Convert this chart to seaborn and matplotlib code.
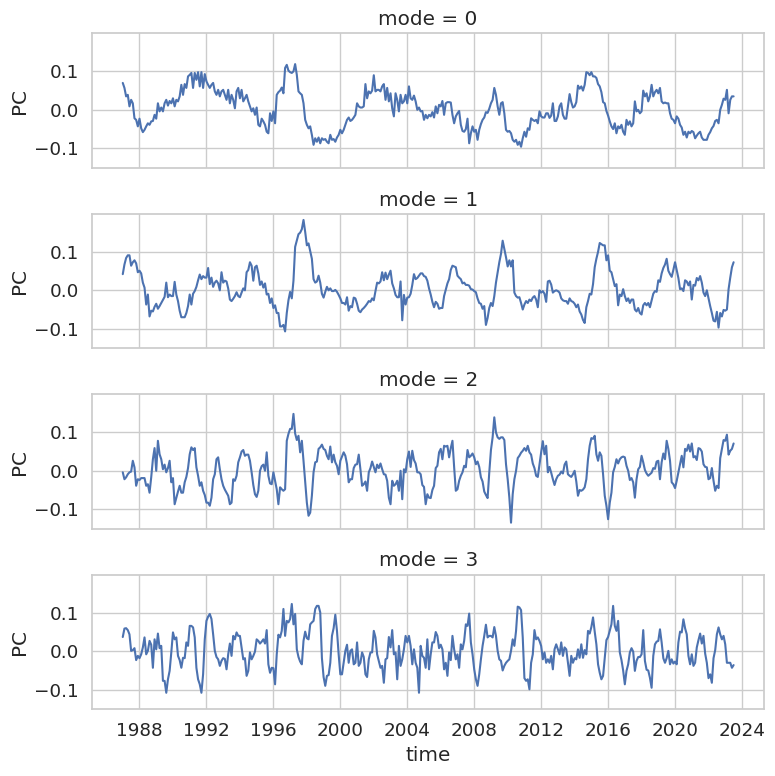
import numpy as np
import pandas as pd
import matplotlib
matplotlib.use('Agg')
import matplotlib.pyplot as plt
import matplotlib.dates as mdates
import seaborn as sns

# samples every 0.1 year, Jan 1987 .. mid 2023
time = pd.date_range('1987-01-01', '2023-07-01', periods=366)

mode0 = [
    0.070, 0.057, 0.035, 0.039, 0.009, 0.026, 0.017, -0.022, -0.026, -0.043,
    -0.023, -0.048, -0.058, -0.052, -0.043, -0.035, -0.039, -0.030, -0.029, -0.013,
    -0.023, 0.017, -0.004, 0.006, -0.004, 0.017, 0.026, 0.011, 0.023, 0.017,
    0.030, 0.009, 0.026, 0.022, 0.035, 0.065, 0.039, 0.067, 0.057, 0.087,
    0.091, 0.096, 0.057, 0.096, 0.078, 0.098, 0.061, 0.098, 0.057, 0.093,
    0.074, 0.065, 0.057, 0.065, 0.070, 0.048, 0.039, 0.052, 0.035, 0.048,
    0.052, 0.039, 0.026, 0.052, 0.017, 0.039, 0.026, 0.004, 0.048, 0.057,
    0.030, 0.052, 0.022, 0.030, 0.039, 0.022, 0.009, -0.004, 0.004, -0.013,
    0.006, -0.039, -0.043, -0.023, -0.030, -0.039, -0.057, -0.061, -0.009, -0.029,
    -0.004, -0.035, 0.039, 0.046, 0.050, 0.058, 0.043, 0.109, 0.117, 0.102,
    0.098, 0.096, 0.100, 0.119, 0.091, 0.048, 0.043, 0.039, 0.017, -0.026,
    -0.039, -0.048, -0.043, -0.065, -0.091, -0.074, -0.083, -0.072, -0.087, -0.074,
    -0.078, -0.076, -0.083, -0.087, -0.065, -0.078, -0.076, -0.083, -0.072, -0.065,
    -0.052, -0.061, -0.052, -0.039, -0.026, -0.020, -0.029, -0.026, -0.020, -0.013,
    0.017, 0.009, 0.006, 0.006, 0.009, 0.067, 0.030, 0.048, 0.043, 0.050,
    0.090, 0.048, 0.052, 0.052, 0.048, 0.061, 0.067, 0.026, 0.057, 0.022,
    0.043, 0.004, -0.017, 0.043, 0.026, -0.004, 0.039, 0.017, 0.022, 0.039,
    0.017, 0.061, 0.030, 0.026, 0.037, 0.022, 0.000, 0.006, -0.004, -0.003,
    -0.026, -0.013, -0.022, -0.013, -0.017, -0.006, -0.020, 0.009, -0.009, 0.013,
    0.009, 0.023, -0.013, 0.017, 0.020, 0.020, 0.019, -0.013, -0.035, -0.017,
    -0.009, -0.003, -0.039, -0.055, -0.057, -0.050, -0.023, -0.087, -0.061, -0.043,
    -0.057, -0.052, -0.078, -0.052, -0.037, -0.026, -0.020, -0.006, -0.008, 0.003,
    0.017, 0.026, 0.057, 0.039, 0.009, -0.013, 0.017, 0.020, -0.009, -0.052,
    -0.057, -0.055, -0.061, -0.078, -0.083, -0.078, -0.091, -0.083, -0.096, -0.074,
    -0.057, -0.070, -0.048, -0.052, -0.022, -0.026, -0.029, -0.026, -0.035, -0.004,
    -0.017, -0.020, -0.020, -0.009, -0.009, -0.021, -0.015, 0.017, -0.029, -0.029,
    -0.017, 0.009, 0.017, -0.013, -0.023, -0.023, 0.009, 0.041, 0.020, 0.006,
    0.009, 0.020, 0.063, 0.055, 0.061, 0.050, 0.065, 0.098, 0.096, 0.090,
    0.098, 0.087, 0.087, 0.083, 0.067, 0.061, 0.046, 0.020, 0.017, -0.003,
    -0.015, -0.030, -0.043, -0.050, -0.035, -0.061, -0.043, -0.048, -0.039, -0.057,
    -0.065, -0.026, -0.039, -0.030, -0.043, -0.035, 0.022, -0.004, 0.000, -0.009,
    -0.004, 0.050, 0.035, 0.043, 0.022, 0.035, 0.065, 0.035, 0.046, 0.052,
    0.043, 0.057, 0.022, 0.017, 0.019, 0.017, 0.017, -0.009, -0.023, -0.026,
    -0.035, -0.017, -0.023, -0.039, -0.046, -0.065, -0.057, -0.072, -0.057, -0.061,
    -0.055, -0.058, -0.074, -0.067, -0.061, -0.057, -0.072, -0.078, -0.078, -0.078,
    -0.065, -0.058, -0.048, -0.042, -0.029, -0.026, -0.035, 0.000, 0.013, 0.029,
    0.026, 0.052, -0.009, 0.026, 0.035, 0.035,
]

mode1 = [
    0.042, 0.067, 0.084, 0.091, 0.091, 0.064, 0.073, 0.078, 0.070, 0.047,
    0.051, 0.044, 0.020, 0.007, -0.037, -0.011, -0.068, -0.053, -0.055, -0.043,
    -0.035, -0.048, -0.041, -0.033, -0.025, -0.017, 0.020, -0.018, -0.011, -0.015,
    -0.015, 0.022, -0.011, -0.028, -0.053, -0.070, -0.070, -0.070, -0.059, -0.041,
    -0.011, -0.037, -0.009, -0.002, 0.009, 0.026, 0.041, 0.029, 0.037, 0.033,
    0.033, 0.058, 0.016, 0.033, 0.009, 0.020, 0.025, 0.018, 0.000, 0.047,
    0.020, 0.025, 0.023, 0.005, -0.024, -0.028, -0.022, -0.015, -0.005, -0.015,
    -0.018, -0.006, 0.005, 0.000, 0.047, 0.053, 0.073, 0.064, 0.025, 0.060,
    0.064, 0.044, 0.014, 0.023, 0.007, 0.018, -0.011, -0.009, -0.033, -0.021,
    -0.046, -0.039, -0.059, -0.059, -0.094, -0.094, -0.090, -0.107, -0.059, -0.026,
    -0.004, -0.021, 0.025, 0.113, 0.129, 0.146, 0.150, 0.159, 0.183, 0.152,
    0.117, 0.122, 0.102, 0.082, 0.029, 0.020, 0.023, 0.038, 0.020, -0.009,
    -0.019, -0.004, 0.009, 0.000, 0.005, -0.002, -0.002, 0.001, -0.004, -0.012,
    -0.021, -0.033, -0.033, -0.037, -0.018, -0.053, -0.041, -0.044, -0.019, -0.021,
    -0.035, -0.053, -0.057, -0.050, -0.046, -0.041, -0.035, -0.028, -0.030, -0.021,
    -0.026, -0.002, 0.020, 0.018, 0.023, 0.047, 0.026, 0.046, 0.029, 0.041,
    0.051, 0.018, 0.005, -0.012, -0.018, -0.018, 0.023, -0.078, -0.012, -0.037,
    -0.019, -0.018, -0.009, 0.014, 0.042, 0.029, 0.032, 0.038, 0.044, 0.044,
    0.037, 0.035, 0.025, 0.005, -0.011, -0.030, -0.044, -0.030, -0.035, -0.048,
    -0.046, -0.046, -0.015, 0.002, 0.018, 0.029, 0.053, 0.064, 0.062, 0.060,
    0.038, 0.033, 0.029, 0.018, 0.020, 0.014, 0.014, 0.012, 0.003, 0.002,
    -0.002, -0.005, -0.021, -0.033, -0.035, -0.048, -0.041, -0.090, -0.072, -0.046,
    -0.033, -0.041, -0.015, 0.020, 0.047, 0.073, 0.095, 0.129, 0.108, 0.086,
    0.062, 0.078, 0.062, 0.078, -0.006, -0.015, -0.019, -0.018, -0.033, -0.050,
    -0.037, -0.028, -0.033, -0.024, -0.028, -0.019, -0.015, -0.024, -0.044, 0.000,
    -0.006, -0.002, -0.009, -0.030, 0.023, 0.025, 0.015, -0.006, -0.002, 0.000,
    -0.002, -0.006, -0.021, -0.026, -0.028, -0.028, -0.035, -0.021, -0.028, -0.030,
    -0.035, -0.044, -0.037, -0.055, -0.063, -0.077, -0.085, -0.044, -0.028, -0.009,
    -0.011, 0.016, 0.060, 0.082, 0.100, 0.123, 0.120, 0.117, 0.117, 0.078,
    0.091, 0.051, 0.047, 0.029, 0.011, 0.016, -0.039, -0.011, -0.015, 0.003,
    -0.015, -0.028, -0.021, -0.033, -0.024, -0.024, -0.050, -0.055, -0.046, -0.059,
    -0.063, -0.039, -0.033, -0.039, -0.033, -0.044, -0.026, -0.009, -0.002, -0.004,
    0.026, 0.022, 0.044, 0.058, 0.067, 0.082, 0.051, 0.042, 0.035, 0.053,
    0.073, 0.053, 0.032, 0.003, 0.005, -0.002, 0.026, 0.023, 0.013, 0.023,
    -0.024, 0.014, 0.012, 0.032, 0.026, 0.037, 0.020, -0.006, -0.015, 0.000,
    -0.021, -0.041, -0.059, -0.079, -0.081, -0.056, -0.097, -0.059, -0.068, -0.051,
    -0.053, -0.050, 0.003, 0.033, 0.060, 0.073,
]

mode2 = [
    -0.004, -0.022, -0.017, -0.009, -0.004, -0.002, 0.026, 0.009, -0.039, -0.022,
    -0.024, -0.019, -0.019, -0.019, -0.039, -0.035, -0.057, -0.017, 0.030, 0.059,
    0.000, 0.078, 0.043, 0.030, 0.004, 0.016, -0.004, 0.007, 0.026, -0.030,
    -0.019, -0.087, -0.070, -0.054, -0.039, -0.057, -0.057, -0.030, -0.016, 0.007,
    0.043, 0.061, 0.054, 0.059, 0.009, -0.013, -0.039, -0.030, -0.052, -0.063,
    -0.083, -0.083, -0.091, -0.070, -0.022, -0.009, 0.030, 0.035, 0.004, -0.022,
    -0.039, -0.049, -0.057, -0.065, -0.087, -0.083, -0.022, -0.026, -0.013, 0.022,
    0.035, 0.050, 0.054, 0.039, 0.042, 0.042, 0.026, -0.004, -0.037, -0.061,
    -0.068, -0.052, 0.000, 0.012, 0.016, 0.000, 0.048, -0.013, -0.033, -0.035,
    -0.004, -0.026, -0.048, -0.087, -0.043, -0.048, -0.052, -0.048, 0.078, 0.096,
    0.109, 0.109, 0.148, 0.097, 0.080, 0.091, 0.048, 0.078, 0.026, -0.030,
    -0.083, -0.117, -0.109, -0.065, -0.004, 0.022, 0.024, 0.057, 0.061, 0.068,
    0.057, 0.054, 0.039, 0.030, 0.063, 0.022, 0.042, 0.022, 0.013, -0.009,
    0.026, 0.037, 0.048, 0.039, 0.017, -0.030, -0.022, -0.022, 0.007, 0.016,
    0.017, 0.042, 0.004, -0.039, -0.035, -0.028, -0.052, -0.004, 0.007, 0.024,
    0.010, -0.004, 0.016, 0.007, 0.019, 0.004, -0.009, -0.010, -0.026, -0.070,
    -0.087, -0.026, -0.039, -0.035, -0.026, -0.052, 0.000, -0.074, 0.004, -0.004,
    0.030, 0.050, 0.010, 0.052, 0.028, 0.019, -0.004, -0.004, -0.009, -0.037,
    -0.042, -0.087, -0.061, -0.070, -0.071, -0.050, -0.039, 0.007, 0.013, 0.048,
    0.057, 0.030, 0.065, 0.063, 0.065, 0.035, 0.059, 0.078, 0.010, -0.052,
    -0.048, -0.026, -0.013, -0.004, 0.013, 0.009, 0.054, 0.035, 0.039, 0.045,
    0.035, 0.017, 0.024, 0.010, -0.017, -0.028, -0.054, -0.063, -0.071, -0.004,
    0.054, 0.087, 0.139, 0.100, 0.087, 0.083, 0.087, 0.087, 0.080, 0.017,
    -0.022, -0.070, -0.135, -0.061, -0.022, 0.000, 0.033, 0.039, 0.047, 0.052,
    0.059, 0.052, 0.065, 0.048, 0.042, 0.019, 0.007, -0.013, -0.016, 0.016,
    0.048, 0.077, 0.043, 0.065, -0.004, 0.010, -0.005, -0.022, -0.037, -0.022,
    -0.013, -0.010, -0.002, -0.007, 0.016, 0.024, -0.009, -0.013, -0.016, -0.009,
    0.000, -0.028, -0.065, -0.050, -0.052, -0.049, -0.043, -0.022, 0.030, 0.065,
    0.085, 0.083, 0.091, 0.043, 0.026, 0.048, 0.039, -0.009, -0.065, -0.091,
    -0.126, -0.083, -0.057, -0.004, 0.010, 0.030, 0.019, 0.030, 0.035, 0.037,
    0.035, 0.013, 0.000, -0.024, -0.019, -0.030, -0.070, -0.022, 0.004, 0.010,
    0.039, 0.022, 0.002, -0.007, -0.013, -0.009, -0.005, 0.007, 0.005, 0.024,
    0.026, -0.022, 0.022, 0.045, 0.030, 0.078, 0.057, 0.026, -0.030, -0.035,
    -0.045, -0.026, -0.004, 0.017, 0.039, 0.009, 0.057, 0.052, 0.068, 0.050,
    0.071, 0.035, 0.038, 0.028, 0.059, 0.057, 0.050, 0.017, 0.010, 0.009,
    -0.022, -0.019, 0.007, -0.026, -0.052, -0.039, -0.045, 0.033, 0.057, 0.080,
    0.078, 0.094, 0.042, 0.052, 0.057, 0.071,
]

mode3 = [
    0.037, 0.059, 0.060, 0.055, 0.044, 0.001, 0.003, 0.008, -0.023, -0.012,
    -0.018, -0.008, 0.010, 0.036, -0.008, 0.001, 0.027, 0.017, -0.043, 0.031,
    0.005, 0.046, 0.008, 0.014, -0.077, -0.077, -0.108, -0.073, -0.051, -0.003,
    0.049, 0.031, 0.036, -0.012, -0.023, -0.043, -0.017, -0.018, 0.023, 0.014,
    0.066, 0.066, 0.062, 0.036, -0.043, -0.073, -0.086, -0.108, -0.060, 0.031,
    0.079, 0.090, 0.097, 0.084, 0.044, 0.001, -0.015, -0.021, -0.038, -0.025,
    -0.018, -0.020, -0.047, -0.008, 0.020, -0.012, 0.040, 0.031, 0.049, 0.040,
    0.040, 0.010, -0.021, -0.018, -0.064, -0.051, -0.003, -0.021, -0.012, -0.001,
    0.031, 0.027, 0.020, 0.025, 0.031, 0.020, 0.055, -0.034, -0.056, -0.043,
    -0.044, -0.086, -0.008, 0.043, 0.036, 0.053, 0.110, 0.040, 0.079, 0.075,
    0.084, 0.123, 0.070, 0.097, 0.005, -0.015, -0.027, -0.034, 0.027, 0.051,
    0.034, 0.031, 0.070, 0.075, 0.079, 0.110, 0.118, 0.118, 0.101, -0.018,
    -0.067, -0.090, -0.064, -0.062, -0.030, 0.040, 0.060, 0.095, 0.053, -0.008,
    -0.060, -0.060, -0.030, 0.001, 0.017, -0.030, 0.001, 0.005, -0.034, -0.030,
    0.023, -0.038, -0.030, -0.003, -0.015, -0.060, -0.067, -0.021, -0.003, -0.003,
    0.053, 0.036, -0.008, -0.025, -0.043, -0.038, -0.082, -0.021, -0.018, 0.037,
    0.010, 0.055, -0.008, -0.003, -0.073, 0.014, -0.038, -0.021, 0.005, 0.040,
    0.023, 0.040, 0.014, -0.034, 0.005, -0.030, -0.043, -0.108, 0.014, -0.012,
    -0.017, -0.043, 0.031, -0.047, -0.008, 0.023, 0.023, 0.050, 0.040, 0.008,
    0.017, 0.005, -0.047, -0.030, -0.064, -0.003, -0.023, 0.040, 0.005, -0.021,
    -0.008, -0.043, 0.018, 0.005, 0.027, 0.070, 0.066, 0.098, 0.023, -0.008,
    -0.047, -0.073, -0.090, -0.060, -0.021, 0.014, 0.040, 0.069, 0.036, 0.040,
    0.040, 0.036, 0.063, 0.040, 0.001, -0.021, -0.025, -0.050, -0.038, -0.030,
    -0.025, -0.021, 0.001, 0.031, 0.014, 0.053, 0.116, 0.114, 0.107, 0.036,
    -0.070, -0.077, -0.073, -0.099, -0.030, -0.008, 0.055, 0.031, 0.036, 0.027,
    0.014, -0.021, -0.003, -0.030, -0.021, -0.030, -0.012, -0.047, 0.005, 0.018,
    0.005, -0.008, 0.023, -0.012, 0.010, 0.005, -0.030, -0.064, -0.012, -0.030,
    -0.018, -0.021, 0.005, -0.017, 0.018, -0.017, 0.003, -0.008, 0.053, 0.046,
    0.063, 0.088, 0.051, 0.018, -0.034, -0.056, -0.073, -0.064, -0.017, 0.029,
    0.037, 0.053, 0.070, 0.118, 0.066, 0.053, 0.079, -0.003, -0.023, -0.050,
    -0.086, -0.051, -0.034, -0.003, 0.008, -0.001, -0.051, -0.025, -0.015, -0.015,
    -0.008, 0.055, -0.025, -0.048, -0.050, -0.069, -0.095, -0.012, 0.018, 0.025,
    0.027, 0.057, 0.023, -0.018, -0.030, -0.018, 0.001, -0.034, -0.021, -0.032,
    -0.027, -0.034, 0.023, 0.051, 0.049, 0.083, 0.060, 0.044, -0.012, -0.034,
    -0.008, -0.038, -0.030, 0.010, 0.029, 0.046, 0.020, 0.040, -0.006, -0.030,
    -0.070, -0.060, -0.082, -0.018, 0.003, 0.044, 0.062, 0.044, 0.031, 0.040,
    0.018, -0.030, -0.030, -0.030, -0.043, -0.036,
]

modes = [0, 1, 2, 3]
series = [mode0, mode1, mode2, mode3]

df = pd.concat(
    [pd.DataFrame({'time': time, 'PC': vals, 'mode': m}) for m, vals in zip(modes, series)],
    ignore_index=True,
)

sns.set_theme(style='whitegrid', font_scale=1.2)

g = sns.relplot(
    data=df, x='time', y='PC', row='mode', kind='line',
    height=1.94, aspect=4,
    facet_kws={'despine': False, 'sharex': True, 'sharey': True},
)
fig = g.figure
fig.set_size_inches(7.75, 7.76)
fig.subplots_adjust(left=0.119, right=0.986, top=0.957, bottom=0.086, hspace=0.342)

for ax in g.axes.flat:
    ax.xaxis.set_major_locator(mdates.YearLocator(4))
    ax.xaxis.set_major_formatter(mdates.DateFormatter('%Y'))
    ax.set_yticks([-0.1, 0.0, 0.1])

fig.savefig('out.png', dpi=100)
